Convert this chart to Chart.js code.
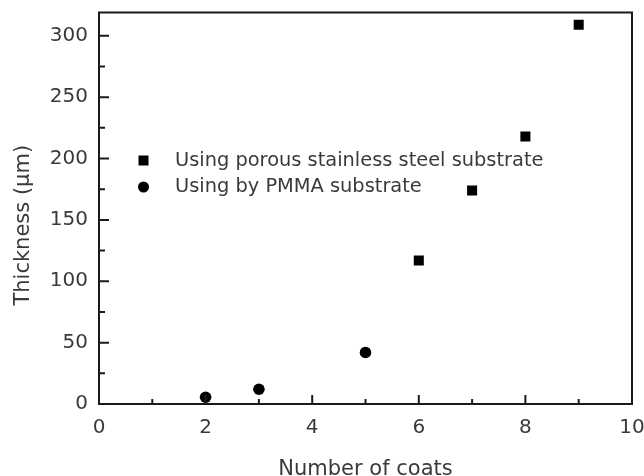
<!DOCTYPE html>
<html>
<head>
<meta charset="utf-8">
<script src="https://cdn.jsdelivr.net/npm/chart.js@4.4.1/dist/chart.umd.min.js"></script>
<style>
  html, body { margin: 0; padding: 0; background: #fff; }
  #wrap { width: 644px; height: 476px; }
</style>
</head>
<body>
<div id="wrap"><canvas id="c" width="644" height="476"></canvas></div>
<script>
// ---- data ----
const steelCoats = [6, 7, 8, 9];
const steelThickness = [117, 174, 218, 309];
const pmmaCoats = [2, 3, 5];
const pmmaThickness = [5.5, 12, 42];
const steelLabel = 'Using porous stainless steel substrate';
const pmmaLabel = 'Using by PMMA substrate';
const xTicks = [0, 2, 4, 6, 8, 10];
const xMinorTicks = [1, 3, 5, 7, 9];
const yTicks = [0, 50, 100, 150, 200, 250, 300];
const yMinorTicks = [25, 75, 125, 175, 225, 275];
const xMin = 0, xMax = 10, yMin = 0, yMax = 319;
const xTitle = 'Number of coats';
const yTitle = 'Thickness (\u03BCm)';

const FONT = 'DejaVu Sans';
const TXT = '#3a3a3a';

const toPts = (xs, ys) => xs.map((x, i) => ({ x: x, y: ys[i] }));

function noPad(s) { s.paddingLeft = 0; s.paddingRight = 0; s.paddingTop = 0; s.paddingBottom = 0; }

const framePlugin = {
  id: 'frame',
  afterDraw(chart) {
    const ctx = chart.ctx;
    const a = chart.chartArea;
    const xs = chart.scales.x, ys = chart.scales.y;
    ctx.save();
    ctx.strokeStyle = '#1a1a1a';
    ctx.lineWidth = 2;
    ctx.strokeRect(a.left, a.top, a.right - a.left, a.bottom - a.top);
    ctx.beginPath();
    xTicks.forEach(v => { const p = xs.getPixelForValue(v); ctx.moveTo(p, a.bottom); ctx.lineTo(p, a.bottom - 9); });
    xMinorTicks.forEach(v => { const p = xs.getPixelForValue(v); ctx.moveTo(p, a.bottom); ctx.lineTo(p, a.bottom - 5); });
    yTicks.forEach(v => { const p = ys.getPixelForValue(v); ctx.moveTo(a.left, p); ctx.lineTo(a.left + 10, p); });
    yMinorTicks.forEach(v => { const p = ys.getPixelForValue(v); ctx.moveTo(a.left, p); ctx.lineTo(a.left + 6, p); });
    ctx.stroke();

    // y axis title
    ctx.fillStyle = TXT;
    ctx.font = '21px "' + FONT + '"';
    ctx.textAlign = 'center';
    ctx.textBaseline = 'middle';
    ctx.save();
    ctx.translate(24, (a.top + a.bottom) / 2 + 17);
    ctx.rotate(-Math.PI / 2);
    ctx.fillText(yTitle, 0, 0);
    ctx.restore();

    // legend
    const lx = a.left + 44.5, ly1 = a.top + 148, ly2 = a.top + 174.5;
    ctx.fillStyle = '#000';
    ctx.fillRect(lx - 5, ly1 - 5, 10, 10);
    ctx.beginPath();
    ctx.arc(lx, ly2, 5.5, 0, Math.PI * 2);
    ctx.fill();
    ctx.fillStyle = TXT;
    ctx.font = '19.4px "' + FONT + '"';
    ctx.textBaseline = 'middle';
    ctx.textAlign = 'left';
    ctx.fillText(chart.data.datasets[0].label, a.left + 76, ly1);
    ctx.fillText(chart.data.datasets[1].label, a.left + 76, ly2);
    ctx.restore();
  }
};

new Chart(document.getElementById('c'), {
  type: 'scatter',
  data: {
    datasets: [
      {
        label: steelLabel,
        data: toPts(steelCoats, steelThickness),
        pointStyle: 'rect',
        pointRadius: 7.1,
        pointBorderWidth: 0,
        backgroundColor: '#000',
        borderColor: '#000'
      },
      {
        label: pmmaLabel,
        data: toPts(pmmaCoats, pmmaThickness),
        pointStyle: 'circle',
        pointRadius: 5.8,
        pointBorderWidth: 0,
        backgroundColor: '#000',
        borderColor: '#000'
      }
    ]
  },
  options: {
    responsive: false,
    animation: false,
    events: [],
    layout: { padding: { top: 12.5, right: 12, left: 0, bottom: 0 } },
    plugins: { legend: { display: false }, tooltip: { enabled: false } },
    scales: {
      x: {
        type: 'linear',
        min: xMin, max: xMax,
        afterBuildTicks(s) { s.ticks = xTicks.map(v => ({ value: v })); },
        afterFit(s) { s.height = 72; noPad(s); },
        grid: { display: false, drawTicks: false },
        border: { display: false },
        ticks: { color: TXT, font: { family: FONT, size: 20 }, padding: 12, maxRotation: 0 },
        title: { display: true, text: xTitle, color: TXT, font: { family: FONT, size: 21, lineHeight: 1 }, padding: { top: 0, bottom: -4 } }
      },
      y: {
        type: 'linear',
        min: yMin, max: yMax,
        afterBuildTicks(s) { s.ticks = yTicks.map(v => ({ value: v })); },
        afterFit(s) { s.width = 99; noPad(s); },
        grid: { display: false, drawTicks: false },
        border: { display: false },
        ticks: { color: TXT, font: { family: FONT, size: 20 }, padding: 11 },
        title: { display: false }
      }
    }
  },
  plugins: [framePlugin]
});
</script>
</body>
</html>
